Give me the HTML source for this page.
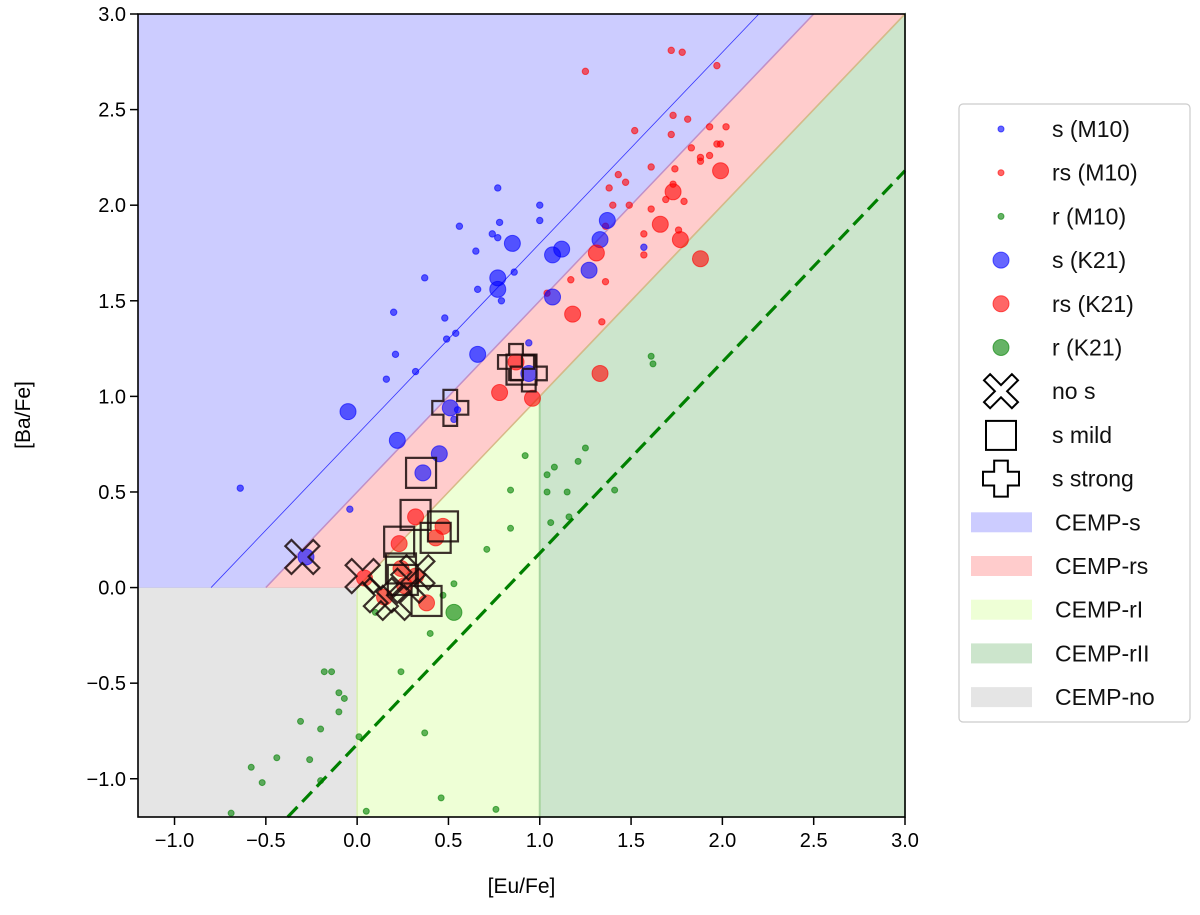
<!DOCTYPE html>
<html><head><meta charset="utf-8"><style>
body{margin:0;background:#fff;}
svg text{font-family:"Liberation Sans","DejaVu Sans",sans-serif;}
</style></head><body>
<svg id="chart" width="1200" height="910" viewBox="0 0 1200 910" xmlns="http://www.w3.org/2000/svg">
<rect width="1200" height="910" fill="#fff"/>
<g id="regions"></g>
<g id="lines"></g>
<g id="points"></g>
<g id="markers"></g>
<g id="axes"></g>
<g id="legend"></g>
</svg>
<script>
const xTicks=[-1.0,-0.5,0.0,0.5,1.0,1.5,2.0,2.5,3.0];
const yTicks=[-1.0,-0.5,0.0,0.5,1.0,1.5,2.0,2.5,3.0];
const sM10=[[0.77,2.09],[1.00,2.00],[0.78,1.91],[1.00,1.92],[0.56,1.89],[0.74,1.85],[0.77,1.83],[0.65,1.76],[0.86,1.65],[0.37,1.62],[0.66,1.56],[0.79,1.50],[0.20,1.44],[0.48,1.41],[0.54,1.33],[0.49,1.30],[0.94,1.28],[0.21,1.22],[0.32,1.13],[0.16,1.09],[0.55,0.93],[0.53,0.88],[-0.64,0.52],[-0.04,0.41],[1.57,1.78]];
const rsM10=[[1.72,2.81],[1.78,2.80],[1.25,2.70],[1.97,2.73],[1.73,2.47],[1.81,2.45],[1.52,2.39],[1.72,2.37],[1.93,2.41],[2.02,2.41],[1.83,2.30],[1.97,2.32],[1.99,2.32],[1.88,2.25],[1.93,2.26],[1.88,2.23],[1.61,2.20],[1.74,2.19],[1.43,2.16],[1.47,2.12],[1.38,2.09],[1.73,2.11],[1.69,2.03],[1.79,2.02],[1.40,2.00],[1.49,2.00],[1.61,1.98],[1.57,1.85],[1.76,1.87],[1.36,1.89],[1.57,1.74],[1.17,1.61],[1.36,1.60],[1.34,1.39],[1.04,1.54]];
const rM10=[[0.92,0.69],[1.25,0.73],[1.08,0.63],[1.04,0.59],[1.21,0.66],[0.84,0.51],[1.04,0.50],[1.15,0.50],[1.41,0.51],[1.06,0.34],[1.16,0.37],[0.84,0.31],[0.71,0.20],[0.53,0.02],[0.47,-0.04],[0.10,-0.13],[0.40,-0.24],[-0.18,-0.44],[-0.14,-0.44],[0.24,-0.44],[-0.10,-0.55],[-0.07,-0.58],[-0.10,-0.65],[-0.31,-0.70],[-0.20,-0.74],[0.01,-0.78],[0.37,-0.76],[-0.44,-0.89],[-0.26,-0.90],[-0.58,-0.94],[-0.52,-1.02],[-0.20,-1.01],[0.46,-1.10],[0.76,-1.16],[0.05,-1.17],[-0.69,-1.18],[1.61,1.21],[1.62,1.17]];
const sK21=[[0.85,1.80],[1.07,1.74],[1.12,1.77],[0.77,1.62],[0.77,1.56],[0.66,1.22],[0.51,0.94],[0.94,1.12],[-0.05,0.92],[0.22,0.77],[0.45,0.70],[0.36,0.60],[-0.28,0.16],[1.37,1.92],[1.33,1.82],[1.27,1.66],[1.07,1.52]];
const rsK21=[[1.99,2.18],[1.73,2.07],[1.66,1.90],[1.77,1.82],[1.88,1.72],[1.31,1.75],[1.18,1.43],[1.33,1.12],[0.87,1.18],[0.78,1.02],[0.96,0.99],[0.32,0.37],[0.47,0.32],[0.43,0.26],[0.23,0.23],[0.04,0.05],[0.24,0.10],[0.32,0.06],[0.26,0.01],[0.15,-0.05],[0.38,-0.08]];
const rK21=[[0.53,-0.13]];
const noS=[[-0.30,0.16],[0.03,0.06],[0.13,-0.04],[0.20,-0.08],[0.33,0.08],[0.28,0.01]];
const sMild=[[0.35,0.60],[0.32,0.38],[0.47,0.32],[0.43,0.26],[0.23,0.24],[0.24,0.10],[0.25,0.04],[0.38,-0.07],[0.90,1.14]];
const sStrong=[[0.51,0.94],[0.87,1.18],[0.94,1.12]];

const X0=138,X1=905,Y0=14,Y1=817,xmin=-1.2,xmax=3.0,ymin=-1.2,ymax=3.0;
const sx=v=>X0+(v-xmin)/(xmax-xmin)*(X1-X0);
const sy=v=>Y1-(v-ymin)/(ymax-ymin)*(Y1-Y0);
const NS="http://www.w3.org/2000/svg";
function mk(tag,attrs,parent){const e=document.createElementNS(NS,tag);for(const k in attrs)e.setAttribute(k,attrs[k]);parent.appendChild(e);return e;}
const pts=a=>a.map(p=>sx(p[0])+","+sy(p[1])).join(" ");
const G=id=>document.getElementById(id);

const reg=G('regions');
let r;
r=mk('polygon',{points:pts([[xmin,0],[-0.5,0],[2.5,3],[xmin,3]]),fill:'#ccccff',stroke:'#b8b8ee','stroke-width':1},reg);

r=mk('polygon',{points:pts([[-0.5,0],[0,0],[3,3],[2.5,3]]),fill:'#ffcccc',stroke:'#eeb0b0','stroke-width':1},reg);

r=mk('polygon',{points:pts([[0,ymin],[1,ymin],[1,1],[0,0]]),fill:'#eeffd6',stroke:'#d8f0b0','stroke-width':1},reg);

r=mk('polygon',{points:pts([[1,ymin],[3,ymin],[3,3],[1,1]]),fill:'#cce5cc',stroke:'#a8d4a0','stroke-width':1.5},reg);

r=mk('polygon',{points:pts([[xmin,ymin],[0,ymin],[0,0],[xmin,0]]),fill:'#e5e5e5'},reg);

mk('line',{x1:sx(-0.5),y1:sy(0),x2:sx(2.5),y2:sy(3),stroke:'#c090c8','stroke-width':1.5},reg);
mk('line',{x1:sx(0),y1:sy(0),x2:sx(3),y2:sy(3),stroke:'#d8b888','stroke-width':1.5},reg);
mk('line',{x1:sx(0),y1:sy(ymin),x2:sx(0),y2:sy(0),stroke:'#d8f0b0','stroke-width':1.5},reg);
mk('line',{x1:sx(1),y1:sy(ymin),x2:sx(1),y2:sy(1),stroke:'#a8d4a0','stroke-width':2},reg);

const ln=G('lines');
r=mk('line',{x1:sx(-0.8),y1:sy(0),x2:sx(2.2),y2:sy(3),stroke:'#3333ff','stroke-width':0.8},ln);

r=mk('line',{x1:sx(-0.38),y1:sy(-1.2),x2:sx(3.0),y2:sy(2.18),stroke:'#008000','stroke-width':3.2,'stroke-dasharray':'14 7'},ln);


const pg=G('points');
function dots(arr,col,rad,name){arr.forEach(p=>{const c=mk('circle',{cx:sx(p[0]),cy:sy(p[1]),r:rad,fill:col,'fill-opacity':0.6,stroke:col,'stroke-opacity':0.6,'stroke-width':1},pg);

});}
dots(rM10,'#008000',3,'r-m10-point');
dots(sM10,'#0000ff',3.2,'s-m10-point');
dots(rsM10,'#ff0000',3.2,'rs-m10-point');
dots(sK21,'#0000ff',8,'s-k21-point');
dots(rsK21,'#ff0000',8,'rs-k21-point');
dots(rK21,'#008000',8,'r-k21-point');

const mg=G('markers');
const xShape=(cx,cy,s)=>{const a=s*0.36,b=s;const P=[[-b,-b+a],[-b+a,-b],[0,-a],[b-a,-b],[b,-b+a],[a,0],[b,b-a],[b-a,b],[0,a],[-b+a,b],[-b,b-a],[-a,0]];return P.map(q=>(cx+q[0])+","+(cy+q[1])).join(" ");};
const plusShape=(cx,cy,s)=>{const a=s*0.38,b=s;const P=[[-a,-b],[a,-b],[a,-a],[b,-a],[b,a],[a,a],[a,b],[-a,b],[-a,a],[-b,a],[-b,-a],[-a,-a]];return P.map(q=>(cx+q[0])+","+(cy+q[1])).join(" ");};
noS.forEach(p=>{const e=mk('polygon',{points:xShape(sx(p[0]),sy(p[1]),17),fill:'none',stroke:'#1a0a0a','stroke-width':2.2,'stroke-opacity':0.85},mg);

});
sMild.forEach(p=>{const e=mk('rect',{x:sx(p[0])-15,y:sy(p[1])-15,width:30,height:30,fill:'none',stroke:'#1a0a0a','stroke-width':2.2,'stroke-opacity':0.85},mg);

});
sStrong.forEach(p=>{const e=mk('polygon',{points:plusShape(sx(p[0]),sy(p[1]),18),fill:'none',stroke:'#1a0a0a','stroke-width':2.2,'stroke-opacity':0.85},mg);

});

const ax=G('axes');
mk('rect',{x:X0,y:Y0,width:X1-X0,height:Y1-Y0,fill:'none',stroke:'#000','stroke-width':1.6},ax);
xTicks.forEach(v=>{mk('line',{x1:sx(v),y1:Y1,x2:sx(v),y2:Y1+8,stroke:'#000','stroke-width':1.5},ax);
const t=mk('text',{x:sx(v),y:Y1+30,'font-size':20,'text-anchor':'middle',fill:'#000'},ax);t.textContent=(v<0?'\u2212':'')+Math.abs(v).toFixed(1);

});
yTicks.forEach(v=>{mk('line',{x1:X0-8,y1:sy(v),x2:X0,y2:sy(v),stroke:'#000','stroke-width':1.5},ax);
const t=mk('text',{x:X0-12,y:sy(v)+7,'font-size':20,'text-anchor':'end',fill:'#000'},ax);t.textContent=(v<0?'\u2212':'')+Math.abs(v).toFixed(1);

});
let t=mk('text',{x:(X0+X1)/2,y:893,'font-size':21,'text-anchor':'middle',fill:'#000'},ax);t.textContent='[Eu/Fe]';

t=mk('text',{x:0,y:0,'font-size':21,'text-anchor':'middle',fill:'#000',transform:'translate(30,415) rotate(-90)'},ax);t.textContent='[Ba/Fe]';


const lg=G('legend');
mk('rect',{x:959,y:104,width:231,height:618,rx:4,fill:'#fff',stroke:'#ccc','stroke-width':1.2},lg);
const entries=[['s (M10)','dot','#0000ff',3],['rs (M10)','dot','#ff0000',3],['r (M10)','dot','#008000',3],['s (K21)','dot','#0000ff',8],['rs (K21)','dot','#ff0000',8],['r (K21)','dot','#008000',8],['no s','x'],['s mild','sq'],['s strong','plus'],['CEMP-s','patch','#ccccff'],['CEMP-rs','patch','#ffcccc'],['CEMP-rI','patch','#eeffd6'],['CEMP-rII','patch','#cce5cc'],['CEMP-no','patch','#e5e5e5']];
entries.forEach((e,i)=>{const y=129+43.7*i;const g=mk('g',{},lg);


if(e[1]==='dot')mk('circle',{cx:1001,cy:y,r:e[3],fill:e[2],'fill-opacity':0.6,stroke:e[2],'stroke-opacity':0.6},g);
else if(e[1]==='x')mk('polygon',{points:xShape(1001,y,17),fill:'none',stroke:'#000','stroke-width':2},g);
else if(e[1]==='sq')mk('rect',{x:986,y:y-14,width:30,height:29,fill:'none',stroke:'#000','stroke-width':2},g);
else if(e[1]==='plus')mk('polygon',{points:plusShape(1001,y,18),fill:'none',stroke:'#000','stroke-width':2},g);
else mk('rect',{x:971,y:y-10,width:61,height:20,fill:e[2]},g);
const tx=mk('text',{x:e[1]==='patch'?1055:1052,y:y+8,'font-size':23,fill:'#111'},g);tx.textContent=e[0];});
</script>
</body></html>
